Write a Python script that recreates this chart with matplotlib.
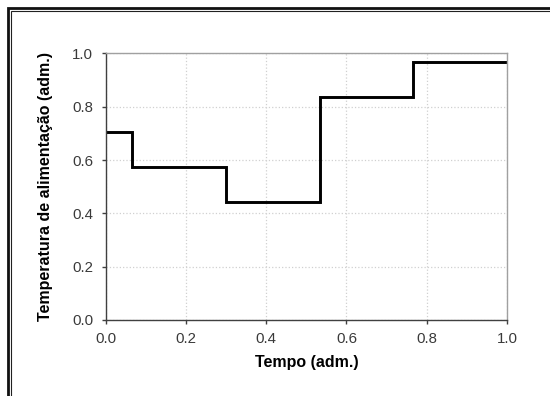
import matplotlib.pyplot as plt
from matplotlib.patches import Rectangle

plt.rcParams['font.family'] = ['Liberation Sans', 'DejaVu Sans']

# degraus da temperatura de alimentação
tempo = [0.0, 0.0667, 0.3, 0.5333, 0.7667, 1.0]
temperatura = [0.704, 0.574, 0.444, 0.837, 0.967, 0.967]
ticks = [0.0, 0.2, 0.4, 0.6, 0.8, 1.0]

fig = plt.figure(figsize=(5.5, 3.96), dpi=100)
ax = fig.add_axes([0.192, 0.192, 0.730, 0.673])

ax.step(tempo, temperatura, where='post', color='black', lw=2.1, solid_joinstyle='miter')

ax.set_xlim(0, 1)
ax.set_ylim(0, 1)
ax.set_xticks(ticks)
ax.set_yticks(ticks)
ax.set_xticklabels([f'{t:.1f}' for t in ticks])
ax.set_yticklabels([f'{t:.1f}' for t in ticks])
ax.tick_params(direction='out', length=3, width=1, color='#404040',
               labelsize=10.8, labelcolor='#3a3a3a', pad=6)
ax.grid(True, color='#d0d0d0', ls=':', lw=0.9)
ax.set_axisbelow(True)

for s in ['left', 'bottom']:
    ax.spines[s].set_color('#404040')
    ax.spines[s].set_linewidth(1.0)
for s in ['top', 'right']:
    ax.spines[s].set_color('#a0a0a0')
    ax.spines[s].set_linewidth(1.0)

ax.set_xlabel('Tempo (adm.)', fontsize=11.5, fontweight='bold', labelpad=6.5)
ax.set_ylabel('Temperatura de alimentação (adm.)', fontsize=11.5, fontweight='bold', labelpad=14)

# moldura externa
W, H = 550, 396
fig.patches.append(Rectangle((8 / W, -0.1), 1.2, (H - 8) / H + 0.1, transform=fig.transFigure,
                             fill=False, ec='#111111', lw=2.0))
fig.patches.append(Rectangle((11 / W, -0.1), 1.2, (H - 11) / H + 0.1, transform=fig.transFigure,
                             fill=False, ec='#222222', lw=0.8))

fig.savefig('out.png', dpi=100)
